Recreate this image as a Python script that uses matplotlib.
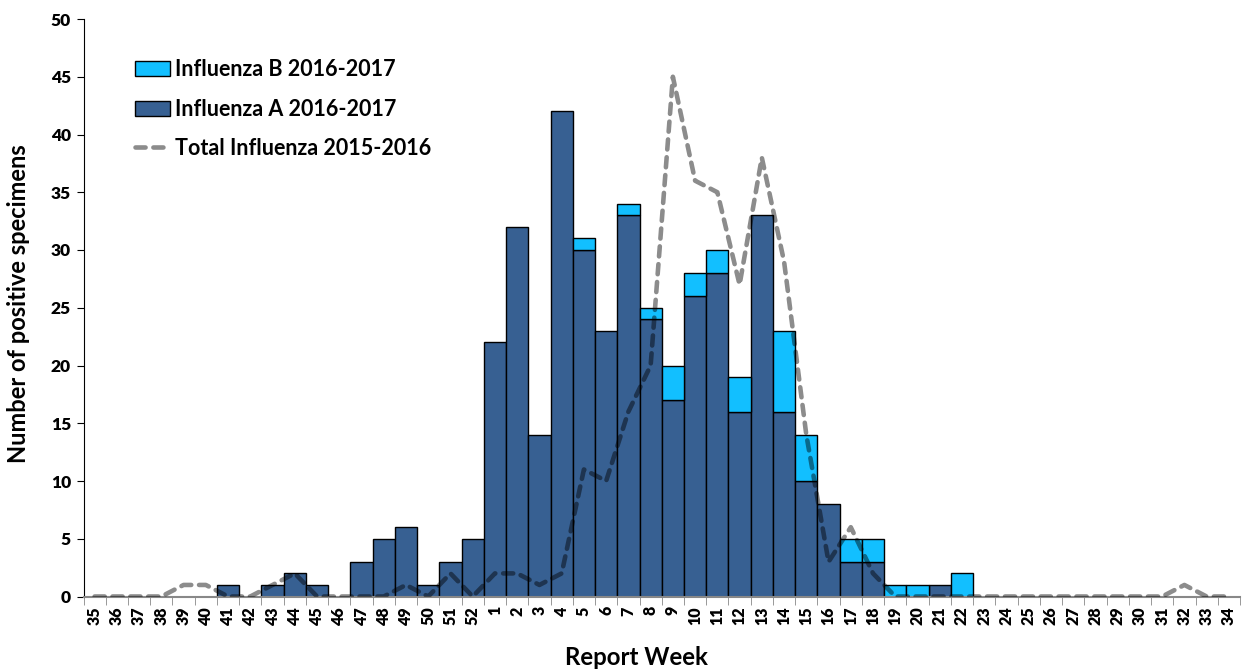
import matplotlib.pyplot as plt
import numpy as np

plt.rcParams['font.family'] = ['Lato', 'DejaVu Sans']
plt.rcParams['font.weight'] = 'bold'
plt.rcParams['axes.labelweight'] = 'bold'

# Report weeks 35..52 of 2016, then 1..34 of 2017
weeks = list(range(35, 53)) + list(range(1, 35))

flu_a = [0, 0, 0, 0, 0, 0, 1, 0, 1, 2, 1, 0, 3, 5, 6, 1, 3, 5,
         22, 32, 14, 42, 30, 23, 33, 24, 17, 26, 28, 16, 33, 16, 10, 8, 3, 3,
         0, 0, 1, 0, 0, 0, 0, 0, 0, 0, 0, 0, 0, 0, 0, 0]
flu_b = [0, 0, 0, 0, 0, 0, 0, 0, 0, 0, 0, 0, 0, 0, 0, 0, 0, 0,
         0, 0, 0, 0, 1, 0, 1, 1, 3, 2, 2, 3, 0, 7, 4, 0, 2, 2,
         1, 1, 0, 2, 0, 0, 0, 0, 0, 0, 0, 0, 0, 0, 0, 0]
total_2015_2016 = [0, 0, 0, 0, 1, 1, 0, 0, 1, 2, 0, 0, 0, 0, 1, 0, 2, 0,
                   2, 2, 1, 2, 11, 10, 16, 20, 45, 36, 35, 27, 38, 29, 14, 3, 6, 2,
                   0, 0, 0, 0, 0, 0, 0, 0, 0, 0, 0, 0, 0, 1, 0, 0]

x = np.arange(len(weeks))
flu_a = np.array(flu_a)
flu_b = np.array(flu_b)

fig = plt.figure(figsize=(12.46, 6.70), dpi=100)
ax = fig.add_axes([83.5 / 1246, 1 - 596.5 / 670, (1240 - 83.5) / 1246, (596.5 - 19) / 670])

# stacked bars (skip empty ones so the baseline stays grey)
ma = flu_a > 0
mb = flu_b > 0
bar_a = ax.bar(x[ma], flu_a[ma], width=1, color='#376092', edgecolor='black',
               linewidth=1, zorder=2)
bar_b = ax.bar(x[mb], flu_b[mb], bottom=flu_a[mb], width=1, color='#12BFFF',
               edgecolor='black', linewidth=1, zorder=2)

line, = ax.plot(x, total_2015_2016, color='black', alpha=0.45, linewidth=3.3,
                dashes=(2.2, 1.7), dash_capstyle='round', solid_joinstyle='round',
                zorder=3)

ax.set_xlim(-0.5, len(weeks) - 0.5)
ax.set_ylim(0, 50)
ax.set_yticks(np.arange(0, 51, 5))
ax.set_yticklabels([str(v) for v in range(0, 51, 5)], fontweight='heavy')
ax.tick_params(axis='y', direction='out', length=5, color='black', labelsize=12.5, pad=4)

ax.set_xticks(x)
ax.set_xticklabels([str(w) for w in weeks], rotation=90, fontsize=11.5, fontweight='heavy')
ax.set_xticks(np.arange(len(weeks) + 1) - 0.5, minor=True)
ax.tick_params(axis='x', which='major', length=0, pad=7)
ax.tick_params(axis='x', which='minor', length=6, color='#888888', direction='out')

for s in ['top', 'right']:
    ax.spines[s].set_visible(False)
ax.spines['left'].set_color('black')
ax.spines['bottom'].set_color('#888888')
ax.spines['bottom'].set_linewidth(1.5)

ax.set_xlabel('Report Week', fontsize=17.3, fontweight='bold', va='center')
ax.xaxis.set_label_coords(0.478, -0.105)
ax.set_ylabel('Number of positive specimens', fontsize=17, fontweight='bold', va='center')
ax.yaxis.set_label_coords(-0.056, 0.507)

ax.legend([bar_b, bar_a, line],
          ['Influenza B 2016-2017', 'Influenza A 2016-2017', 'Total Influenza 2015-2016'],
          loc='upper left', bbox_to_anchor=(0.0445, 0.93), frameon=False,
          prop={'size': 15.5, 'weight': 'bold'}, handlelength=1.63, handleheight=0.7,
          handletextpad=0.25, labelspacing=0.85, borderpad=0, borderaxespad=0)

plt.savefig('out.png', dpi=100)
